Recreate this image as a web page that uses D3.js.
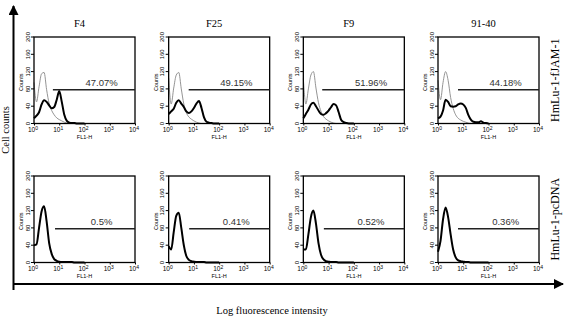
<!DOCTYPE html>
<html>
<head>
<meta charset="utf-8">
<script src="https://cdn.jsdelivr.net/npm/d3@7"></script>
<style>
  body { margin: 0; background: #fff; }
  text { font-family: "Liberation Sans", Arial, sans-serif; }
  .serif { font-family: "Liberation Serif", "Times New Roman", serif; }
</style>
</head>
<body>
<div id="chart"></div>
<script>
// clone names (columns) and cell lines (rows)
const clones = ["F4", "F25", "F9", "91-40"];
const rows = ["HmLu-1-fJAM-1", "HmLu-1-pcDNA"];

// histogram bins, in log10 decades of FL1-H
const bins = [0, 0.1, 0.2, 0.3, 0.4, 0.5, 0.6, 0.7, 0.8, 0.9, 1.0, 1.1, 1.2, 1.3, 1.4, 1.5, 1.6, 1.7, 1.8, 1.9, 2.0];

// top row: fJAM-1 stained (thick) and control (thin grey)
const fjamCounts = [
  [12, 18, 26, 44, 54, 50, 42, 35, 38, 55, 75, 50, 20, 6, 2, 1, 1, 0, 0, 0, 0],
  [22, 28, 34, 48, 54, 46, 38, 28, 24, 28, 36, 46, 52, 36, 14, 4, 2, 1, 0, 0, 0],
  [12, 22, 32, 44, 48, 40, 30, 22, 20, 24, 30, 38, 45, 42, 26, 8, 3, 1, 0, 0, 0],
  [12, 16, 30, 55, 50, 40, 39, 40, 44, 46, 44, 36, 20, 9, 4, 3, 3, 5, 2, 1, 0]
];
const fjamControl = [
  [95, 50, 85, 115, 118, 78, 46, 30, 20, 13, 9, 6, 3, 1, 0, 0, 0, 0, 0, 0, 0],
  [105, 45, 82, 112, 118, 80, 45, 25, 15, 10, 6, 3, 1, 0, 0, 0, 0, 0, 0, 0, 0],
  [104, 45, 80, 112, 120, 82, 48, 28, 16, 10, 6, 3, 1, 0, 0, 0, 0, 0, 0, 0, 0],
  [100, 55, 95, 120, 100, 60, 35, 20, 12, 8, 5, 3, 1, 0, 0, 0, 0, 0, 0, 0, 0]
];
// bottom row: pcDNA (stained and control overlap)
const pcdnaCounts = [
  [40, 42, 80, 118, 130, 95, 45, 20, 8, 4, 2, 1, 1, 1, 1, 1, 0, 0, 0, 0, 0],
  [38, 30, 70, 108, 115, 80, 40, 15, 6, 3, 2, 1, 1, 1, 1, 0, 0, 0, 0, 0, 0],
  [30, 30, 65, 105, 120, 90, 45, 18, 7, 3, 2, 1, 1, 1, 0, 0, 0, 0, 0, 0, 0],
  [25, 50, 100, 127, 105, 65, 30, 12, 5, 3, 2, 1, 1, 0, 0, 0, 0, 0, 0, 0, 0]
];

const percents = [
  ["47.07%", "49.15%", "51.96%", "44.18%"],
  ["0.5%", "0.41%", "0.52%", "0.36%"]
];
const gateStart = [
  [5.6, 6.2, 5.6, 6.2],
  [6.8, 6.5, 6.5, 6.2]
];
const gateLevel = 78;

const W = 568, H = 321;
const svg = d3.select("#chart").append("svg")
  .attr("width", W).attr("height", H);

const col = d3.scaleBand().domain(clones).range([34, 539]).paddingInner(0.25);
const rowTop = [37, 176];
const ph = 86.5;

const x = d3.scaleLog().domain([1, 10000]).range([0, col.bandwidth()]);
const y = d3.scaleLinear().domain([0, 200]).range([ph, 0]);

const line = d3.line()
  .curve(d3.curveMonotoneX)
  .x(d => x(Math.pow(10, d[0])))
  .y(d => y(d[1]));

rows.forEach((rname, r) => {
  clones.forEach((cname, c) => {
    const g = svg.append("g")
      .attr("transform", `translate(${col(cname)},${rowTop[r]})`);

    if (r === 0) {
      svg.append("text").attr("class", "serif")
        .attr("x", col(cname) + col.bandwidth() / 2 - 5)
        .attr("y", 27)
        .attr("text-anchor", "middle")
        .attr("font-size", 10.5)
        .text(cname);
      g.append("path")
        .datum(bins.map((b, i) => [b, fjamControl[c][i]]))
        .attr("d", line)
        .attr("fill", "none")
        .attr("stroke", "#888")
        .attr("stroke-width", 0.9);
      g.append("path")
        .datum(bins.map((b, i) => [b, fjamCounts[c][i]]))
        .attr("d", line)
        .attr("fill", "none")
        .attr("stroke", "#000")
        .attr("stroke-width", 2);
    } else {
      g.append("path")
        .datum(bins.map((b, i) => [b, pcdnaCounts[c][i]]))
        .attr("d", line)
        .attr("fill", "none")
        .attr("stroke", "#000")
        .attr("stroke-width", 2);
    }

    // box
    g.append("rect")
      .attr("width", col.bandwidth()).attr("height", ph)
      .attr("fill", "none").attr("stroke", "#000").attr("stroke-width", 1.3);

    // gate marker
    g.append("line")
      .attr("x1", x(gateStart[r][c])).attr("x2", x(10000))
      .attr("y1", y(gateLevel)).attr("y2", y(gateLevel))
      .attr("stroke", "#222").attr("stroke-width", 1.3);
    g.append("text")
      .attr("x", col.bandwidth() * 0.67)
      .attr("y", y(gateLevel) - 3.5)
      .attr("text-anchor", "middle")
      .attr("font-size", 9.5)
      .attr("fill", "#333")
      .text(percents[r][c]);

    // y axis
    const ya = g.append("g")
      .call(d3.axisLeft(y).tickValues([0, 40, 80, 120, 160, 200]).tickSize(3).tickPadding(1));
    ya.select(".domain").remove();
    ya.selectAll("text")
      .attr("font-size", 6)
      .attr("text-anchor", "middle")
      .attr("transform", d => `translate(${-4.5},${y(d)}) rotate(-90)`)
      .attr("x", 0).attr("y", 0).attr("dy", "0");
    ya.selectAll(".tick").attr("transform", null);
    ya.selectAll(".tick line").attr("transform", d => `translate(0,${y(d)})`);
    g.append("text")
      .attr("transform", `translate(-11,${ph / 2 + 2}) rotate(-90)`)
      .attr("text-anchor", "middle")
      .attr("font-size", 5.5)
      .text("Counts");

    // x axis
    const xa = g.append("g")
      .attr("transform", `translate(0,${ph})`)
      .call(d3.axisBottom(x).tickValues([1, 10, 100, 1000, 10000]).tickSize(2).tickPadding(2).tickFormat(() => "10"));
    xa.select(".domain").remove();
    xa.selectAll("text")
      .attr("font-size", 6.5)
      .attr("dx", -1.5)
      .append("tspan")
      .attr("dy", -2.5)
      .attr("font-size", 5)
      .text(d => Math.round(Math.log10(d)));
    g.append("text")
      .attr("x", x(100))
      .attr("y", ph + 15)
      .attr("text-anchor", "middle")
      .attr("font-size", 5.5)
      .text("FL1-H");
  });

  svg.append("text").attr("class", "serif")
    .attr("transform", `translate(559,${rowTop[r] + ph / 2}) rotate(-90)`)
    .attr("text-anchor", "middle")
    .attr("font-size", 12)
    .text(rname);
});

// outer axes with arrowheads
svg.append("defs").append("marker")
  .attr("id", "arrow")
  .attr("viewBox", "0 0 10 10")
  .attr("refX", 9).attr("refY", 5)
  .attr("markerWidth", 5).attr("markerHeight", 5)
  .attr("orient", "auto")
  .append("path")
  .attr("d", "M 0 0 L 10 5 L 0 10 Z")
  .attr("fill", "#000");

svg.append("line")
  .attr("x1", 13.5).attr("y1", 290).attr("x2", 13.5).attr("y2", 6)
  .attr("stroke", "#000").attr("stroke-width", 2)
  .attr("marker-end", "url(#arrow)");
svg.append("line")
  .attr("x1", 13).attr("y1", 284).attr("x2", 563).attr("y2", 284)
  .attr("stroke", "#000").attr("stroke-width", 2)
  .attr("marker-end", "url(#arrow)");

svg.append("text").attr("class", "serif")
  .attr("transform", "translate(9,130) rotate(-90)")
  .attr("text-anchor", "middle")
  .attr("font-size", 10.5)
  .text("Cell counts");
svg.append("text").attr("class", "serif")
  .attr("x", 272).attr("y", 314)
  .attr("text-anchor", "middle")
  .attr("font-size", 10.5)
  .text("Log fluorescence intensity");
</script>
</body>
</html>
